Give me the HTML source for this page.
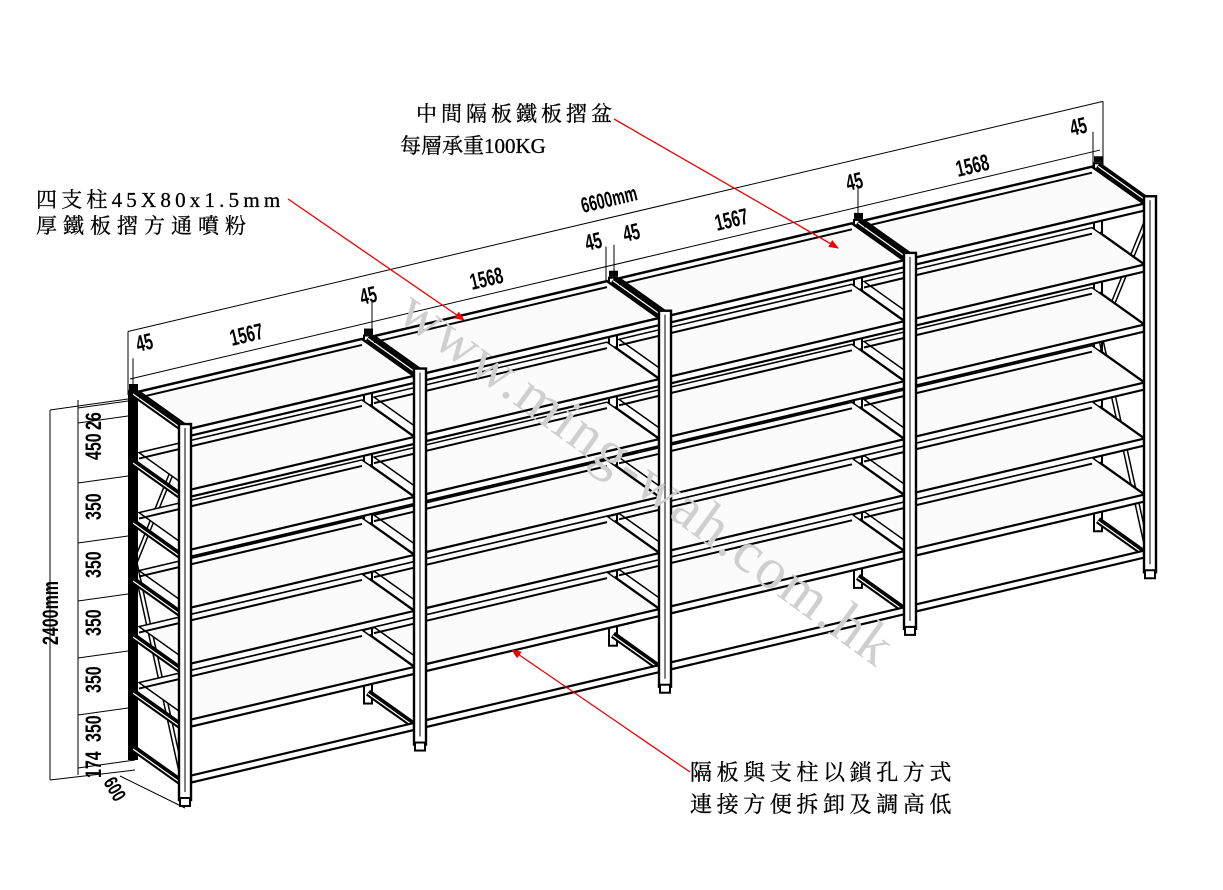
<!DOCTYPE html>
<html><head><meta charset="utf-8">
<style>
html,body{margin:0;padding:0;background:#fff;}
body{width:1223px;height:890px;overflow:hidden;}
svg{display:block;}
.t{font-family:"Liberation Serif","Noto Serif CJK SC","Noto Sans CJK TC",serif;fill:#000;}
.d{font-family:"Liberation Sans","DejaVu Sans Condensed",sans-serif;font-weight:bold;fill:#000;}
</style></head>
<body>
<svg id="s" width="1223" height="890" viewBox="0 0 1223 890" xmlns="http://www.w3.org/2000/svg">
<defs>
<marker id="ar" markerWidth="10" markerHeight="8" refX="9" refY="4" orient="auto" markerUnits="userSpaceOnUse">
<path d="M0,0 L10,4 L0,8 z" fill="#e00"/></marker>
</defs>
<g id="g"></g>
<text class="t" x="0" y="0" transform="translate(395,318) rotate(36)" font-size="58" style="fill:#cfcfcf" letter-spacing="2">www.ming-wah.com.hk</text>
<text class="t" x="416" y="121" font-size="21" letter-spacing="4" stroke="#000" stroke-width="0.3">中間隔板鐵板摺盆</text>
<text class="t" x="400" y="153" font-size="21" stroke="#000" stroke-width="0.3">每層承重100KG</text>
<text class="t" x="36" y="207" font-size="21" letter-spacing="4.2" stroke="#000" stroke-width="0.3">四支柱45X80x1.5mm</text>
<text class="t" x="36" y="233" font-size="21" letter-spacing="6" stroke="#000" stroke-width="0.3">厚鐵板摺方通噴粉</text>
<text class="t" x="690" y="780" font-size="22" letter-spacing="4.6" stroke="#000" stroke-width="0.3">隔板與支柱以鎖孔方式</text>
<text class="t" x="690" y="812" font-size="22" letter-spacing="4.6" stroke="#000" stroke-width="0.3">連接方便拆卸及調高低</text>
<line x1="614" y1="119" x2="838" y2="248" stroke="#e00" stroke-width="1.3" marker-end="url(#ar)"/>
<line x1="288" y1="199" x2="464" y2="320" stroke="#e00" stroke-width="1.3" marker-end="url(#ar)"/>
<line x1="690" y1="772" x2="512" y2="650" stroke="#e00" stroke-width="1.3" marker-end="url(#ar)"/>
</svg>
<script>
var g=document.getElementById('g'),NS='http://www.w3.org/2000/svg';
function el(n,a,txt){var e=document.createElementNS(NS,n);for(var k in a)e.setAttribute(k,a[k]);if(txt!==undefined)e.textContent=txt;g.appendChild(e);return e;}
function L(x1,y1,x2,y2,w,c){el('line',{x1:x1,y1:y1,x2:x2,y2:y2,stroke:c||'#000','stroke-width':w||1});}
var s=0.236,DX=-52,DY=-37;
function Y(x,y0){return y0-s*(x-185);}
var F=[185,420,665,910,1150];
var lev=[430,491,551,609,665,721,777];
L(128,Y(128,318),1103,Y(1103,318)-0,1);
L(130,Y(130,366),1100,Y(1100,366),1);
L(128,Y(128,318),128,395,1);
L(1103,Y(1103,318),1103,165,1);
[133,372,606,614,858,1093].forEach(function(x){L(x,Y(x,346),x,Y(x,395),1);});
function dt(x,y,t,fs){el('text',{class:'d',x:0,y:0,'font-size':fs||20,transform:'translate('+x+','+y+') rotate(-13.3) scale(0.75,1.15)'},t);}
dt(138,352,'45');dt(232,346,'1567');dt(362,305,'45');dt(472,290,'1568');
dt(587,251,'45');dt(625,242,'45');dt(717,231,'1567');dt(848,191,'45');dt(958,177,'1568');dt(1072,136,'45');
dt(583,213,'6600mm',19);
L(50,410,50,780,1);L(50,780,135,770,1);L(50,410,135,398,1);
L(78,400,78,775,1);
[405,420,480,540,598,655,712,765].forEach(function(y){L(78,y+3,135,y-5,1);});
function vt(x,y,t){el('text',{class:'d',x:0,y:0,'font-size':20,transform:'translate('+x+','+y+') rotate(-90) scale(0.8,1.1)'},t);}
vt(101,430,'26');vt(101,460,'450');vt(101,520,'350');vt(101,578,'350');vt(101,636,'350');vt(101,693,'350');vt(101,742,'350');vt(101,778,'174');
vt(58,645,'2400mm');
el('text',{class:'d',x:0,y:0,'font-size':18,transform:'translate(103,782) rotate(60) scale(0.8,1.1)'},'600');
L(120,776,185,808,1);
F.forEach(function(x,i){var bx=x+DX;var t=Y(x,428)+DY,b=Y(x,796)+DY;
 el('rect',{x:bx-4,y:t,width:8,height:b-t,fill:i==0?'#000':'#fff',stroke:'#000','stroke-width':2});});
[185,1150].forEach(function(x){var fx=x,bx=x+DX;
 var pts=[[fx,Y(fx,440)],[bx+2,Y(fx,600)+DY],[fx,Y(fx,790)]];
 for(var k=-2;k<=2;k+=4){L(pts[0][0]+k,pts[0][1],pts[1][0]+k,pts[1][1],1.5);L(pts[1][0]+k,pts[1][1],pts[2][0]+k,pts[2][1],1.5);}
});
F.forEach(function(x){lev.forEach(function(l,j){var y=Y(x,l)+8;if(j==0)y=Y(x,l);
 L(x,y,x+DX,y+DY,7);L(x,y+1,x+DX,y+DY+1,1.2,'#fff');});});
for(var i=0;i<4;i++){var x0=F[i]+6,x1=F[i+1]-6;
 lev.forEach(function(l,j){
  var a=[x0,Y(x0,l)],b=[x1,Y(x1,l)],c=[x1+DX,Y(x1,l)+DY],d=[x0+DX,Y(x0,l)+DY];
  if(j<6) el('polygon',{points:[a,b,c,d].map(function(p){return p.join(',')}).join(' '),fill:'#fbfbfb',stroke:'#000','stroke-width':j==0?2.5:1.5});
  el('polygon',{points:[a,b,[b[0],b[1]+7],[a[0],a[1]+7]].map(function(p){return p.join(',')}).join(' '),fill:'#fff',stroke:'#000','stroke-width':2.2});
  if(j<6)L(d[0],d[1]+6,c[0],c[1]+6,2);
 });}
F.forEach(function(x){var t=Y(x,424),b=Y(x,800);
 el('rect',{x:x-6,y:t,width:12,height:b-t,fill:'#fff',stroke:'#000','stroke-width':2.4});
 L(x,t+4,x,b-8,1);
 el('rect',{x:x-5,y:b-2,width:10,height:8,fill:'#fff',stroke:'#000','stroke-width':2});
 el('rect',{x:x+DX-4,y:Y(x,424)+DY-3,width:9,height:6,fill:'#000'});
});
</script>
</body></html>
